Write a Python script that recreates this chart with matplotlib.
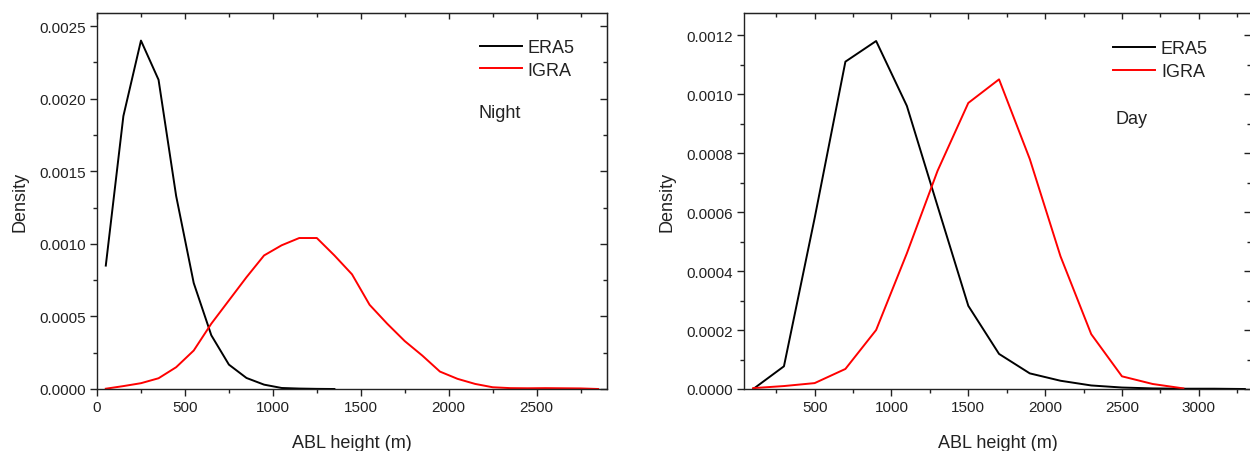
import numpy as np
import matplotlib.pyplot as plt
from matplotlib.ticker import MultipleLocator, FormatStrFormatter

plt.rcParams['font.family'] = ['Liberation Sans', 'DejaVu Sans']

# Night panel
night_x = [50, 150, 250, 350, 450, 550, 650, 750, 850, 950, 1050, 1150, 1250, 1350,
           1450, 1550, 1650, 1750, 1850, 1950, 2050, 2150, 2250, 2350, 2450, 2550,
           2650, 2750, 2850]
night_era5 = [0.00085, 0.00188, 0.00240, 0.00213, 0.00133, 0.00073, 0.00037, 0.000168,
              0.000076, 0.00003, 0.000007, 0.000003, 0.000001, 0.0]
night_igra = [0.000002, 0.00002, 0.00004, 0.000074, 0.00015, 0.000265, 0.00045, 0.00061,
              0.00077, 0.00092, 0.00099, 0.00104, 0.00104, 0.00092, 0.00079, 0.00058,
              0.00045, 0.00033, 0.00023, 0.00012, 0.00007, 0.000035, 0.000012, 0.000006,
              0.000005, 0.000006, 0.000005, 0.000004, 0.0]

# Day panel
day_x = [100, 300, 500, 700, 900, 1100, 1300, 1500, 1700, 1900, 2100, 2300, 2500,
         2700, 2900, 3100, 3300]
day_era5 = [0.0, 0.000077, 0.00058, 0.00111, 0.00118, 0.00096, 0.00062, 0.000282,
            0.000119, 0.000053, 0.000028, 0.000012, 0.000005, 0.000002, 0.000001,
            0.000001, 0.0]
day_igra = [0.000003, 0.00001, 0.00002, 0.000068, 0.0002, 0.00046, 0.00074, 0.00097,
            0.00105, 0.00078, 0.00045, 0.000186, 0.000043, 0.000017, 0.000002]

text_col = '#222222'

def style_axes(ax, xmin, xmax, ymax, xmaj, xmin_step, ymaj, ymin_step):
	ax.set_xlim(xmin, xmax)
	ax.set_ylim(0, ymax)
	ax.xaxis.set_major_locator(MultipleLocator(xmaj))
	ax.xaxis.set_minor_locator(MultipleLocator(xmin_step))
	ax.yaxis.set_major_locator(MultipleLocator(ymaj))
	ax.yaxis.set_minor_locator(MultipleLocator(ymin_step))
	ax.yaxis.set_major_formatter(FormatStrFormatter('%.4f'))
	ax.tick_params(which='both', direction='out', top=False, right=False,
		labelsize=11, colors=text_col, width=1.0)
	ax.tick_params(which='major', length=5, pad=3)
	ax.tick_params(which='minor', length=3)
	for s in ax.spines.values():
		s.set_color(text_col)
		s.set_linewidth(1.0)
	# inward ticks on top and right
	sec_x = ax.secondary_xaxis('top')
	sec_x.xaxis.set_major_locator(MultipleLocator(xmaj))
	sec_x.xaxis.set_minor_locator(MultipleLocator(xmin_step))
	sec_x.tick_params(which='both', direction='in', labeltop=False, colors=text_col, width=1.0)
	sec_x.tick_params(which='major', length=4)
	sec_x.tick_params(which='minor', length=3)
	sec_x.spines['top'].set_color(text_col)
	sec_y = ax.secondary_yaxis('right')
	sec_y.yaxis.set_major_locator(MultipleLocator(ymaj))
	sec_y.yaxis.set_minor_locator(MultipleLocator(ymin_step))
	sec_y.tick_params(which='both', direction='in', labelright=False, colors=text_col, width=1.0)
	sec_y.tick_params(which='major', length=5)
	sec_y.tick_params(which='minor', length=3)
	sec_y.spines['right'].set_color(text_col)
	ax.set_xlabel('ABL height (m)', fontsize=13, color=text_col, labelpad=14)
	ax.set_ylabel('Density', fontsize=13, color=text_col, labelpad=8)

fig = plt.figure(figsize=(12.5, 4.52), dpi=100)

ax1 = fig.add_axes([97/1250, 62/452, 510/1250, 376/452])
ax1.plot(night_x[:len(night_era5)], night_era5, color='black', lw=1.4, label='ERA5')
ax1.plot(night_x, night_igra, color='red', lw=1.4, label='IGRA')
style_axes(ax1, 0, 2900, 0.00259, 500, 250, 0.0005, 0.00025)
ax1.legend(loc='upper left', bbox_to_anchor=(0.751, 0.93), frameon=False, fontsize=13,
	handlelength=2.3, handletextpad=0.35, labelspacing=0.3, borderpad=0, borderaxespad=0,
	labelcolor=text_col)
ax1.text(0.749, 0.735, 'Night', transform=ax1.transAxes, fontsize=13, color=text_col,
	va='center', ha='left')

ax2 = fig.add_axes([744/1250, 62/452, 507/1250, 376/452])
ax2.plot(day_x, day_era5, color='black', lw=1.4, label='ERA5')
ax2.plot(day_x[:len(day_igra)], day_igra, color='red', lw=1.4, label='IGRA')
style_axes(ax2, 40, 3340, 0.001275, 500, 250, 0.0002, 0.0001)
ax2.legend(loc='upper left', bbox_to_anchor=(0.728, 0.927), frameon=False, fontsize=13,
	handlelength=2.3, handletextpad=0.35, labelspacing=0.3, borderpad=0, borderaxespad=0,
	labelcolor=text_col)
ax2.text(0.732, 0.72, 'Day', transform=ax2.transAxes, fontsize=13, color=text_col,
	va='center', ha='left')

fig.savefig('out.png', dpi=100)
